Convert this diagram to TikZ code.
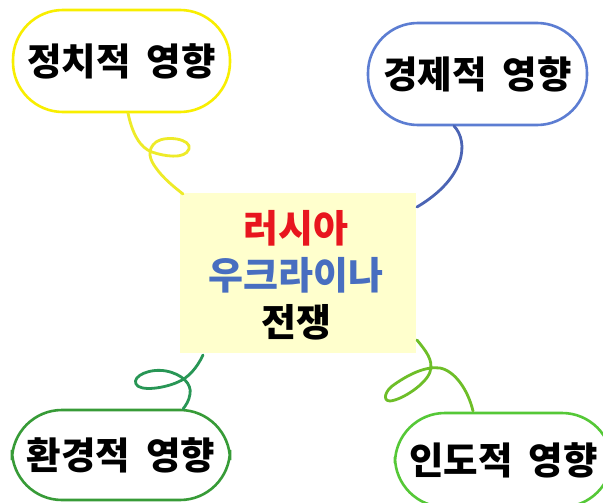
\documentclass[tikz,border=0pt]{standalone}
\usepackage{fontspec}
\newfontfamily\kr{Noto Sans CJK KR}
\definecolor{ybox}{RGB}{248,238,0}
\definecolor{ycurl}{RGB}{238,235,40}
\definecolor{bbox}{RGB}{92,125,210}
\definecolor{bcurl}{RGB}{75,100,180}
\definecolor{gbox}{RGB}{55,155,55}
\definecolor{gcurl}{RGB}{40,150,85}
\definecolor{lgbox}{RGB}{85,200,55}
\definecolor{lgcurl}{RGB}{110,190,40}
\definecolor{cfill}{RGB}{255,255,205}
\definecolor{tred}{RGB}{232,22,30}
\definecolor{tblue}{RGB}{72,110,192}
\tikzset{
  topic/.style={draw, line width=2.6pt, fill=white, rounded corners=50pt,
    font=\kr\bfseries\fontsize{37.5}{44}\selectfont, inner sep=0pt},
  curl/.style={line width=2.8pt, line cap=round, line join=round},
}
\begin{document}
\begin{tikzpicture}[x=1pt,y=-1pt]
\useasboundingbox (0,0) rectangle (603,503);
\clip (0,0) rectangle (603,503);
\fill[white] (0,0) rectangle (603,503);
% central box
\node[fill=cfill, minimum width=236pt, minimum height=160pt, inner sep=0pt] (c) at (298,273) {};
\node[align=center, font=\kr\bfseries\fontsize{38}{47}\selectfont, inner sep=0pt] (ct) at (296,275)
  {\textcolor{tred}{러시아}\\\textcolor{tblue}{우크라이나}\\\textcolor{black}{전쟁}};
% topic boxes
\node[topic, draw=ybox, minimum width=217pt, minimum height=102pt] (tl) at (121.5,61) {정치적 \hspace{0.2em}영향};
\node[topic, draw=bbox, minimum width=219pt, minimum height=102pt] (tr) at (477.5,74) {경제적 \hspace{0.2em}영향};
\node[topic, draw=gbox, minimum width=218pt, minimum height=90pt] (bl) at (121,455) {환경적 \hspace{0.2em}영향};
\node[topic, draw=lgbox, minimum width=217pt, minimum height=94pt] (br) at (503.5,460) {인도적 \hspace{0.2em}영향};
% connector end points
\coordinate (a1) at (128,113);
\coordinate (a2) at (183,194);
\coordinate (b1) at (454,126);
\coordinate (b2) at (417,207);
\coordinate (g1) at (203,355);
\coordinate (g2) at (183,409);
\coordinate (h1) at (417,340);
\coordinate (h2) at (473,411);
% yellow curl
\draw[curl, ycurl] (a1) .. controls (132,133) and (140,148) .. (152,152)
  .. controls (163,156) and (185,160) .. (189,149)
  .. controls (192,139) and (166,135) .. (156,142)
  .. controls (146,150) and (150,160) .. (156,168)
  .. controls (163,178) and (174,187) .. (a2);
% blue curl
\draw[curl, bcurl] (b1) .. controls (469,142) and (466,178) .. (b2);
% dark green curl
\draw[curl, gcurl] (g1) .. controls (197,368) and (188,378) .. (178,382)
  .. controls (165,388) and (140,392) .. (136,384)
  .. controls (132,376) and (150,368) .. (166,371)
  .. controls (182,374) and (192,384) .. (190,394)
  .. controls (189,401) and (186,405) .. (g2);
% light green curl
\draw[curl, lgcurl] (h1) .. controls (425,350) and (434,360) .. (430,372)
  .. controls (426,384) and (402,400) .. (390,401)
  .. controls (382,401) and (385,390) .. (395,384)
  .. controls (408,375) and (425,366) .. (440,368)
  .. controls (455,371) and (468,390) .. (h2);
\end{tikzpicture}
\end{document}
